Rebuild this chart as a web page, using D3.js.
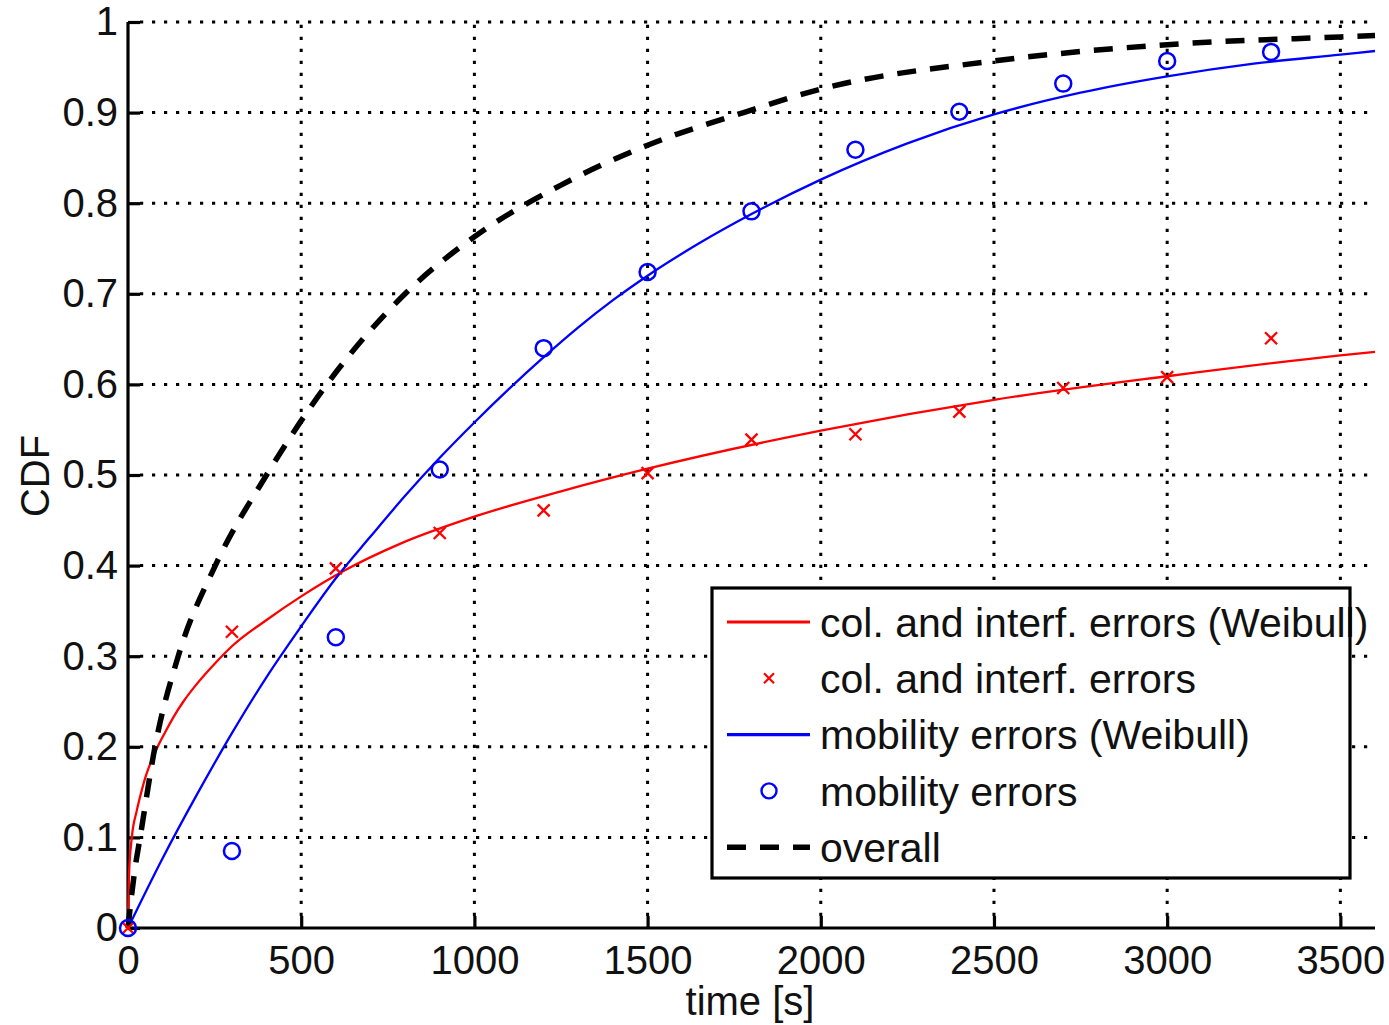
<!DOCTYPE html>
<html>
<head>
<meta charset="utf-8">
<script src="https://cdn.jsdelivr.net/npm/d3@7/dist/d3.min.js"></script>
<style>
  html, body { margin: 0; padding: 0; background: #fff; }
  text { font-family: "Liberation Sans", Arial, Helvetica, sans-serif; fill: #111; }
</style>
</head>
<body>
<svg id="chart" width="1389" height="1025"></svg>
<script>
// ---- data ----
const sampleTimes = [0, 300, 600, 900, 1200, 1500, 1800, 2100, 2400, 2700, 3000, 3300];
const colErrors = [0, 0.327, 0.397, 0.436, 0.461, 0.502, 0.539, 0.545, 0.570, 0.596, 0.608, 0.651];
const mobErrors = [0, 0.085, 0.321, 0.506, 0.640, 0.724, 0.791, 0.859, 0.901, 0.932, 0.957, 0.967];

const colFitT = [0, 3, 11, 25, 35, 50, 65, 88, 110, 130, 160, 200, 251, 300, 400, 500, 622, 785, 1000, 1250, 1500, 2000, 2500, 3000, 3500, 3600];
const colFitF = [0, 0.06, 0.10, 0.129, 0.145, 0.166, 0.182, 0.202, 0.218, 0.232, 0.25, 0.27, 0.292, 0.311, 0.340, 0.366, 0.394, 0.424, 0.454, 0.482, 0.507, 0.549, 0.583, 0.609, 0.632, 0.636];

const mobFitT = [0, 100, 200, 300, 400, 500, 600, 700, 800, 900, 1000, 1100, 1200, 1300, 1400, 1500, 1650, 1800, 2000, 2250, 2500, 2750, 3000, 3250, 3500, 3600];
const mobFitF = [0, 0.077, 0.148, 0.215, 0.277, 0.333, 0.386, 0.432, 0.477, 0.519, 0.558, 0.595, 0.630, 0.663, 0.693, 0.720, 0.756, 0.788, 0.826, 0.866, 0.898, 0.922, 0.940, 0.954, 0.964, 0.968];

const overallT = [0, 10, 20, 35, 78, 145, 252, 400, 574, 800, 1000, 1250, 1500, 1777, 2000, 2500, 3000, 3500, 3600];
const overallF = [0, 0.035, 0.065, 0.1, 0.2, 0.3, 0.4, 0.5, 0.6, 0.7, 0.763, 0.82, 0.864, 0.9, 0.926, 0.957, 0.975, 0.9835, 0.985];

const xTicks = [0, 500, 1000, 1500, 2000, 2500, 3000, 3500];
const yTicks = [0, 0.1, 0.2, 0.3, 0.4, 0.5, 0.6, 0.7, 0.8, 0.9, 1];
const yTickLabels = ["0", "0.1", "0.2", "0.3", "0.4", "0.5", "0.6", "0.7", "0.8", "0.9", "1"];

const legendLabels = [
  "col. and interf. errors (Weibull)",
  "col. and interf. errors",
  "mobility errors (Weibull)",
  "mobility errors",
  "overall"
];

// ---- layout ----
const svg = d3.select("#chart");
const L = 128, R = 1375, T = 22, B = 928;
const x = d3.scaleLinear().domain([0, 3600]).range([L, R]);
const y = d3.scaleLinear().domain([0, 1]).range([B, T]);
const FS = 40;

svg.append("rect").attr("width", 1389).attr("height", 1025).attr("fill", "#fff");

// grid
const grid = svg.append("g").attr("stroke", "#000").attr("stroke-width", 3)
  .attr("stroke-dasharray", "3.2,8.8").attr("fill", "none");
yTicks.filter(d => d > 0).forEach(d => {
  grid.append("line").attr("x1", x(0) + 12).attr("x2", x(3600)).attr("y1", y(d)).attr("y2", y(d));
});
xTicks.filter(d => d > 0).forEach(d => {
  grid.append("line").attr("x1", x(d)).attr("x2", x(d)).attr("y1", y(0) - 12).attr("y2", y(1));
});

// axes
const xAxis = d3.axisBottom(x).tickValues(xTicks).tickFormat(d3.format("d"))
  .tickSizeInner(-12).tickSizeOuter(0).tickPadding(18);
const yAxis = d3.axisLeft(y).tickValues(yTicks).tickFormat((d, i) => yTickLabels[i])
  .tickSizeInner(-12).tickSizeOuter(0).tickPadding(10);

const gx = svg.append("g").attr("transform", `translate(0,${B})`).call(xAxis);
const gy = svg.append("g").attr("transform", `translate(${L},0)`).call(yAxis);
[gx, gy].forEach(g => {
  g.select(".domain").attr("stroke", "#000").attr("stroke-width", 3.2);
  g.selectAll(".tick line").attr("stroke", "#000").attr("stroke-width", 3.2);
  g.selectAll(".tick text").style("font-size", FS + "px").attr("fill", "#111")
    .style("font-family", '"Liberation Sans", Arial, sans-serif');
});
gx.select(".domain").attr("d", `M${L},0H${R}`);
gy.select(".domain").attr("d", `M0,${B}V${T}`);

// axis titles
svg.append("text").attr("x", 750).attr("y", 1015).attr("text-anchor", "middle")
  .style("font-size", FS + "px").text("time [s]");
svg.append("text").attr("transform", "translate(49,476) rotate(-90)").attr("text-anchor", "middle")
  .style("font-size", FS + "px").text("CDF");

// curves
const line = d3.line().x(d => x(d[0])).y(d => y(d[1])).curve(d3.curveMonotoneX);
const zip = (a, b) => a.map((v, i) => [v, b[i]]);

svg.append("path").datum(zip(colFitT, colFitF)).attr("d", line)
  .attr("fill", "none").attr("stroke", "#ff0000").attr("stroke-width", 2.3);
svg.append("path").datum(zip(mobFitT, mobFitF)).attr("d", line)
  .attr("fill", "none").attr("stroke", "#0000ff").attr("stroke-width", 2.3);
svg.append("path").datum(zip(overallT, overallF)).attr("d", line)
  .attr("fill", "none").attr("stroke", "#000").attr("stroke-width", 5.5)
  .attr("stroke-dasharray", "19,14");

// markers
const xMark = (cx, cy, s) => `M${cx - s},${cy - s}L${cx + s},${cy + s}M${cx - s},${cy + s}L${cx + s},${cy - s}`;
svg.append("g").selectAll("path").data(zip(sampleTimes, colErrors)).join("path")
  .attr("d", d => xMark(x(d[0]), y(d[1]), 6))
  .attr("stroke", "#ff0000").attr("stroke-width", 2.3).attr("fill", "none");
svg.append("g").selectAll("circle").data(zip(sampleTimes, mobErrors)).join("circle")
  .attr("cx", d => x(d[0])).attr("cy", d => y(d[1])).attr("r", 8)
  .attr("stroke", "#0000ff").attr("stroke-width", 2.5).attr("fill", "none");

// legend
const lg = svg.append("g");
lg.append("rect").attr("x", 712).attr("y", 588).attr("width", 638).attr("height", 290)
  .attr("fill", "#fff").attr("stroke", "none");
const rowY = i => 622 + i * 56.3;
const lx1 = 727, lx2 = 810, lmx = 769, ltx = 820;
lg.append("line").attr("x1", lx1).attr("x2", lx2).attr("y1", rowY(0)).attr("y2", rowY(0))
  .attr("stroke", "#ff0000").attr("stroke-width", 3.2);
lg.append("path").attr("d", xMark(lmx, rowY(1), 5)).attr("stroke", "#ff0000").attr("stroke-width", 2.2);
lg.append("line").attr("x1", lx1).attr("x2", lx2).attr("y1", rowY(2)).attr("y2", rowY(2))
  .attr("stroke", "#0000ff").attr("stroke-width", 3.2);
lg.append("circle").attr("cx", lmx).attr("cy", rowY(3)).attr("r", 7.5)
  .attr("stroke", "#0000ff").attr("stroke-width", 2.4).attr("fill", "none");
lg.append("line").attr("x1", lx1).attr("x2", lx2).attr("y1", rowY(4)).attr("y2", rowY(4))
  .attr("stroke", "#000").attr("stroke-width", 5.5).attr("stroke-dasharray", "19,14");
legendLabels.forEach((t, i) => {
  lg.append("text").attr("x", ltx).attr("y", rowY(i)).attr("dy", "0.36em")
    .style("font-size", "41px").text(t);
});
lg.append("rect").attr("x", 712).attr("y", 588).attr("width", 638).attr("height", 290)
  .attr("fill", "none").attr("stroke", "#000").attr("stroke-width", 3.2);
</script>
</body>
</html>
